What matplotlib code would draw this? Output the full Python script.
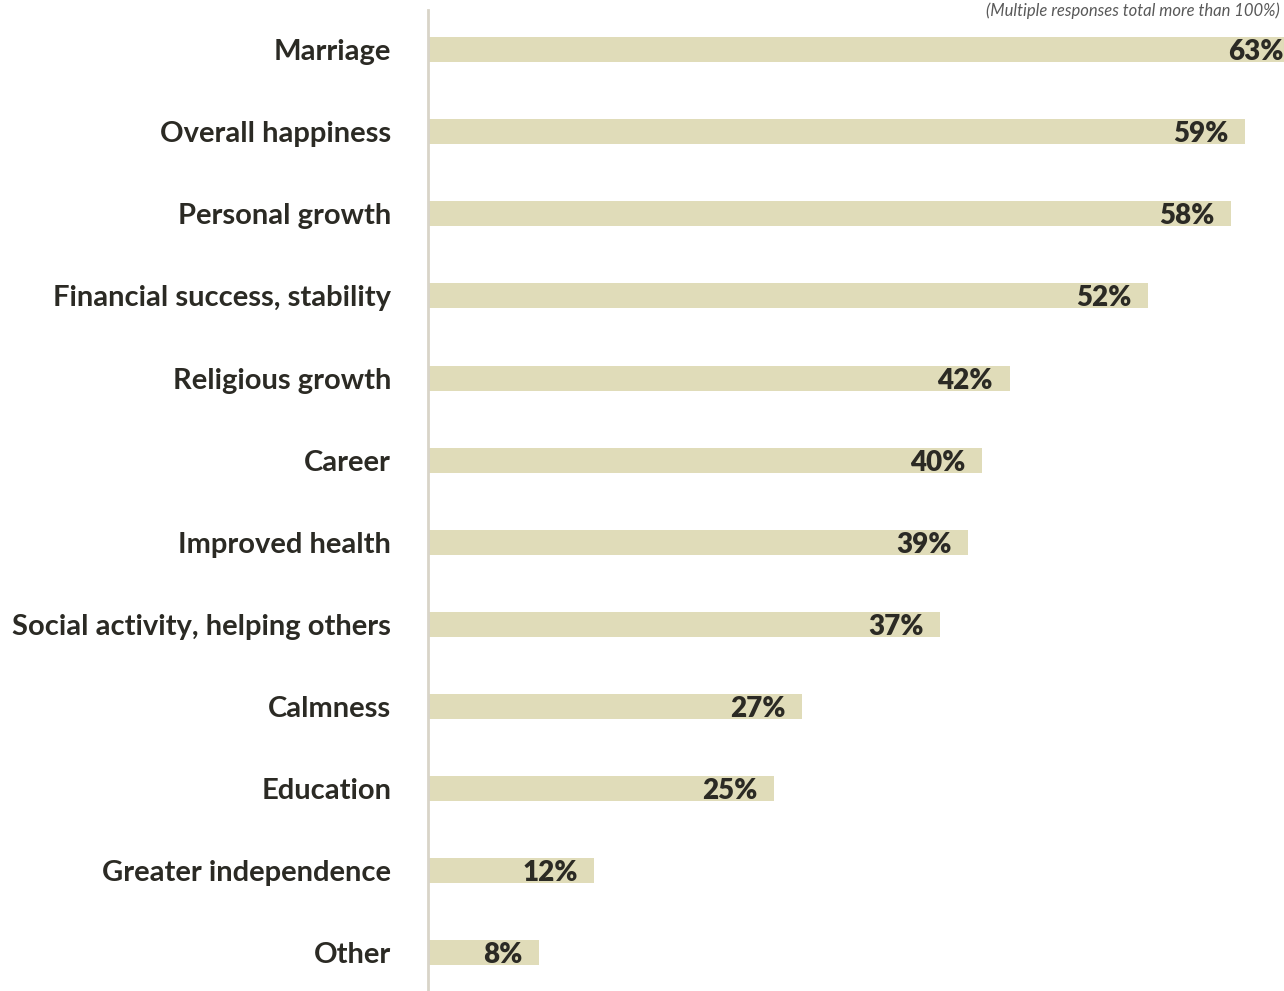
import matplotlib
matplotlib.use("Agg")
import matplotlib.pyplot as plt

categories = [
    "Marriage",
    "Overall happiness",
    "Personal growth",
    "Financial success, stability",
    "Religious growth",
    "Career",
    "Improved health",
    "Social activity, helping others",
    "Calmness",
    "Education",
    "Greater independence",
    "Other",
]
values = [63, 59, 58, 52, 42, 40, 39, 37, 27, 25, 12, 8]
value_labels = ["63%", "59%", "58%", "52%", "42%", "40%", "39%", "37%",
                "27%", "25%", "12%", "8%"]
note = "(Multiple responses total more than 100%)"

BAR_COLOR = "#e0dcb9"
TEXT_COLOR = "#2b2a24"
AXIS_COLOR = "#d8d4c8"
FONT = ["Lato", "DejaVu Sans"]

W, H = 1284, 991
fig = plt.figure(figsize=(W / 100, H / 100), dpi=100)
ax = fig.add_axes([428 / W, 0, 1 - 428 / W, 1 - 10 / H])

ypos = list(range(len(categories)))
ax.barh(ypos, values, height=0.305, color=BAR_COLOR, edgecolor="none", zorder=2)

ax.set_xlim(0, (W - 428) / 13.85)
ax.set_ylim(len(categories) - 1 + 0.463, -0.482)

for y, v, lab in zip(ypos, values, value_labels):
    ax.annotate(lab, xy=(v, y), xytext=(-12, -1.8), textcoords="offset points",
                ha="right", va="center", fontsize=20, fontweight="heavy",
                color=TEXT_COLOR, family=FONT, annotation_clip=False)

ax.set_yticks(ypos)
ax.set_yticklabels(categories, fontsize=21, fontweight="bold",
                   color=TEXT_COLOR, family=FONT)
ax.tick_params(axis="y", length=0, pad=26.5)
ax.set_xticks([])

for side in ("top", "right", "bottom"):
    ax.spines[side].set_visible(False)
ax.spines["left"].set_color(AXIS_COLOR)
ax.spines["left"].set_linewidth(2)

fig.text(1 - 4 / W, 1 - 2 / H, note, ha="right", va="top",
         fontsize=12, style="italic", color="#595959", family=FONT)

fig.savefig("out.png", dpi=100)
